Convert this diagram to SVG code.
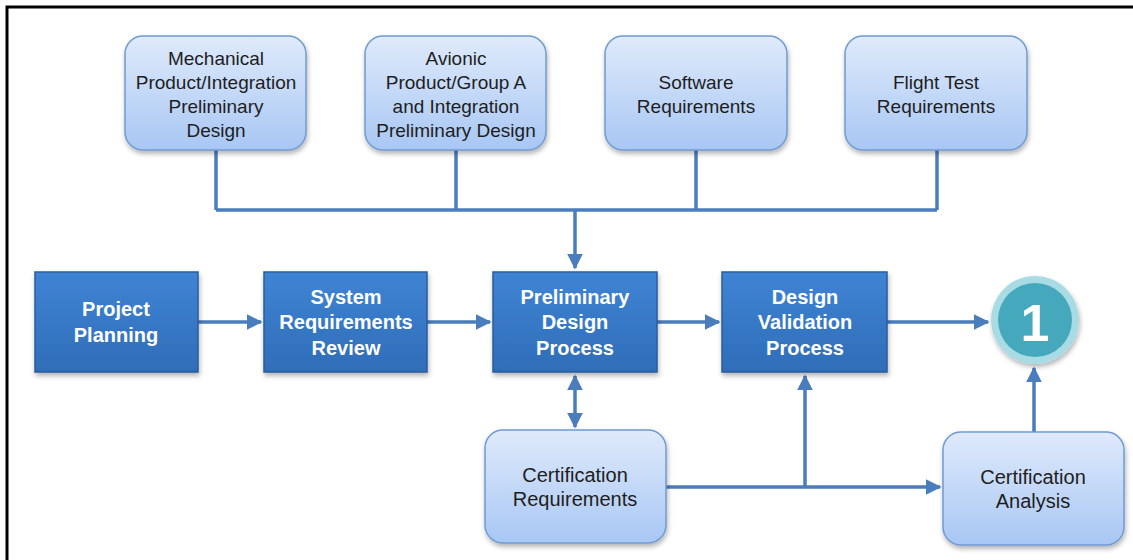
<svg xmlns="http://www.w3.org/2000/svg" width="1133" height="560" viewBox="0 0 1133 560">
<defs>
<linearGradient id="lg" x1="0" y1="0" x2="0" y2="1">
<stop offset="0" stop-color="#dfeafb"/>
<stop offset="1" stop-color="#a8c7f4"/>
</linearGradient>
<linearGradient id="dg" x1="0" y1="0" x2="0" y2="1">
<stop offset="0" stop-color="#3f84d4"/>
<stop offset="1" stop-color="#2f6db8"/>
</linearGradient>
<filter id="sh" x="-10%" y="-10%" width="125%" height="130%">
<feDropShadow dx="1" dy="3" stdDeviation="2.5" flood-color="#000" flood-opacity="0.3"/>
</filter>
<marker id="ah" viewBox="0 0 10 10" refX="9" refY="5" markerWidth="4.5" markerHeight="4.5" orient="auto-start-reverse" markerUnits="strokeWidth">
<path d="M0,0 L10,5 L0,10 z" fill="#4a7dbd"/>
</marker>
<style>
.lb{fill:url(#lg);stroke:#6f9bd3;stroke-width:1.5;filter:url(#sh)}
.db{fill:url(#dg);stroke:#2a5d9c;stroke-width:1.5;filter:url(#sh)}
.lt{font-family:"Liberation Sans",Arial,sans-serif;font-size:19px;fill:#1e1e1e;text-anchor:middle}
.ct{font-size:20px}
.dt{font-family:"Liberation Sans",Arial,sans-serif;font-size:20px;font-weight:bold;fill:#fff;text-anchor:middle}
.cn{fill:none;stroke:#4a7dbd;stroke-width:3.5}
</style>
</defs>
<rect width="1133" height="560" fill="#fff"/>
<path d="M7,560 V7 H1133" fill="none" stroke="#000" stroke-width="3"/>

<g id="connectors">
<path class="cn" d="M216,150 V210 M456,150 V210 M696,150 V210 M937,150 V210 M216,210 H937"/>
<path class="cn" d="M575,210 V268" marker-end="url(#ah)"/>
<path class="cn" d="M198,322 H261" marker-end="url(#ah)"/>
<path class="cn" d="M427,322 H490" marker-end="url(#ah)"/>
<path class="cn" d="M657,322 H719" marker-end="url(#ah)"/>
<path class="cn" d="M887,322 H988" marker-end="url(#ah)"/>
<path class="cn" d="M575,376 V427" marker-start="url(#ah)" marker-end="url(#ah)"/>
<path class="cn" d="M666,487 H940" marker-end="url(#ah)"/>
<path class="cn" d="M805,487 V376" marker-end="url(#ah)"/>
<path class="cn" d="M1034,432 V368" marker-end="url(#ah)"/>
</g>

<g id="mech">
<rect class="lb" x="125" y="36" width="181" height="114" rx="18"/>
<text class="lt" x="216" y="65">Mechanical</text>
<text class="lt" x="216" y="89">Product/Integration</text>
<text class="lt" x="216" y="113">Preliminary</text>
<text class="lt" x="216" y="137">Design</text>
</g>
<g id="avionic">
<rect class="lb" x="365" y="36" width="181" height="114" rx="18"/>
<text class="lt" x="456" y="65">Avionic</text>
<text class="lt" x="456" y="89">Product/Group A</text>
<text class="lt" x="456" y="113">and Integration</text>
<text class="lt" x="456" y="137">Preliminary Design</text>
</g>
<g id="software">
<rect class="lb" x="605" y="36" width="182" height="114" rx="18"/>
<text class="lt" x="696" y="89">Software</text>
<text class="lt" x="696" y="113">Requirements</text>
</g>
<g id="flight">
<rect class="lb" x="845" y="36" width="182" height="114" rx="18"/>
<text class="lt" x="936" y="89">Flight Test</text>
<text class="lt" x="936" y="113">Requirements</text>
</g>

<g id="planning">
<rect class="db" x="35" y="272" width="163" height="100"/>
<text class="dt" x="116" y="316">Project</text>
<text class="dt" x="116" y="342">Planning</text>
</g>
<g id="srr">
<rect class="db" x="264" y="272" width="163" height="100"/>
<text class="dt" x="346" y="304">System</text>
<text class="dt" x="346" y="329">Requirements</text>
<text class="dt" x="346" y="355">Review</text>
</g>
<g id="pdp">
<rect class="db" x="493" y="272" width="164" height="100"/>
<text class="dt" x="575" y="304">Preliminary</text>
<text class="dt" x="575" y="329">Design</text>
<text class="dt" x="575" y="355">Process</text>
</g>
<g id="dvp">
<rect class="db" x="722" y="272" width="165" height="100"/>
<text class="dt" x="805" y="304">Design</text>
<text class="dt" x="805" y="329">Validation</text>
<text class="dt" x="805" y="355">Process</text>
</g>

<g id="milestone">
<circle cx="1035" cy="320" r="44" fill="#a9dbe4" filter="url(#sh)"/>
<circle cx="1035" cy="320" r="37" fill="#45a8bd"/>
<text x="1035" y="341" font-family="Liberation Sans,Arial,sans-serif" font-size="52" font-weight="bold" fill="#fff" text-anchor="middle">1</text>
</g>

<g id="certreq">
<rect class="lb" x="485" y="430" width="181" height="113" rx="18"/>
<text class="lt ct" x="575" y="482">Certification</text>
<text class="lt ct" x="575" y="506">Requirements</text>
</g>
<g id="certanalysis">
<rect class="lb" x="943" y="432" width="181" height="113" rx="18"/>
<text class="lt ct" x="1033" y="484">Certification</text>
<text class="lt ct" x="1033" y="508">Analysis</text>
</g>
</svg>
